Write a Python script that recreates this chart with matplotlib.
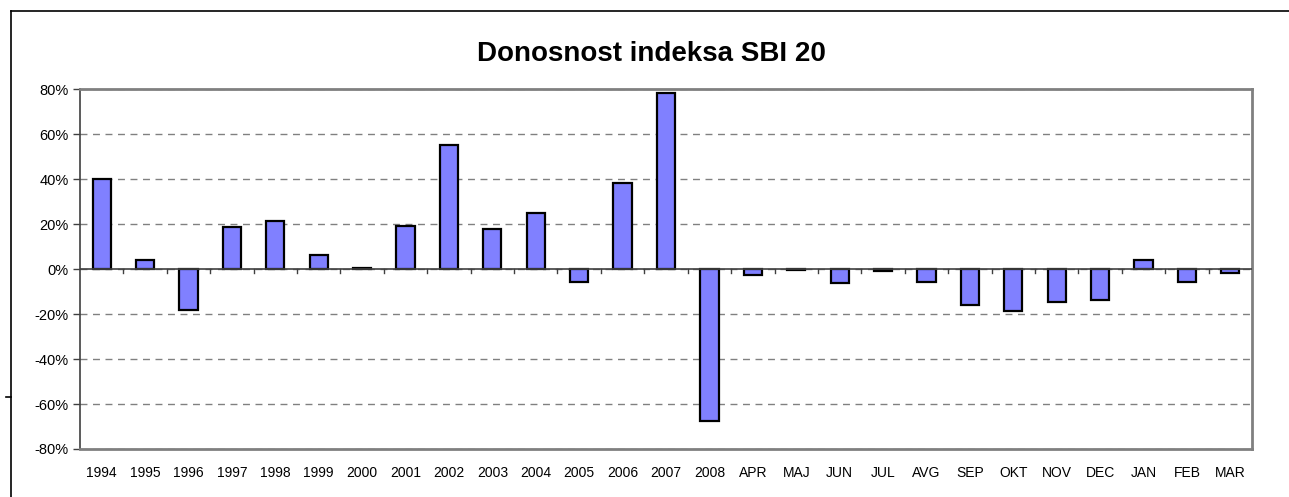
import matplotlib
matplotlib.use("Agg")
import matplotlib.pyplot as plt
from matplotlib.lines import Line2D
from matplotlib.ticker import FuncFormatter

plt.rcParams['font.family'] = ['Liberation Sans', 'DejaVu Sans']

# podatki: donosnost indeksa SBI 20 (v %)
labels = ["1994", "1995", "1996", "1997", "1998", "1999", "2000", "2001",
          "2002", "2003", "2004", "2005", "2006", "2007", "2008",
          "APR", "MAJ", "JUN", "JUL", "AVG", "SEP", "OKT", "NOV", "DEC",
          "JAN", "FEB", "MAR"]
returns = [39.8, 3.9, -18.2, 18.8, 21.5, 6.1, 0.4, 19.1,
           55.3, 17.8, 24.9, -5.6, 38.1, 78.2, -67.6,
           -2.5, -0.4, -6.4, -0.7, -5.6, -16.1, -18.8, -14.8, -13.9,
           4.0, -5.8, -1.9]

W, H = 1289, 497
fig = plt.figure(figsize=(W / 100, H / 100), dpi=100)
ax = fig.add_axes([80 / W, 1 - 449 / H, (1252 - 80) / W, (449 - 89) / H])

x = list(range(len(labels)))
ax.bar(x, returns, width=0.42, color="#8080FF", edgecolor="black",
       linewidth=1.6, zorder=3)

ax.set_xlim(-0.5, len(labels) - 0.5)
ax.set_ylim(-80, 80)
ax.set_yticks(range(-80, 81, 20))
ax.yaxis.set_major_formatter(FuncFormatter(lambda v, p: f"{v:.0f}%"))
ax.yaxis.grid(True, linestyle=(0, (5, 4)), color="#808080", linewidth=1.0, zorder=0)
ax.tick_params(axis="y", length=5, width=1, color="#404040", labelsize=10.5, pad=3)

# os x na 0 z oznakami med kategorijami
ax.set_xticks(x)
ax.set_xticklabels(labels)
ax.tick_params(axis="x", length=0, labelsize=10, pad=12)
ax.axhline(0, color="#404040", linewidth=1.2, zorder=4)
for i in range(1, len(labels)):
    ax.plot([i - 0.5, i - 0.5], [0, -1.6], color="#404040", linewidth=1, zorder=4,
            clip_on=False)

for side in ["top", "right", "bottom"]:
    ax.spines[side].set_color("#808080")
    ax.spines[side].set_linewidth(2)
ax.spines["left"].set_color("#404040")
ax.spines["left"].set_linewidth(1.2)

fig.text(651 / W, 1 - 54 / H, "Donosnost indeksa SBI 20", ha="center", va="center",
         fontsize=20, fontweight="bold")

# okvir grafa
fig.add_artist(Line2D([11 / W, 1], [1 - 11 / H, 1 - 11 / H], color="black", linewidth=1.2))
fig.add_artist(Line2D([11 / W, 11 / W], [0, 1 - 11 / H], color="black", linewidth=1.2))
fig.add_artist(Line2D([6 / W, 11 / W], [1 - 397 / H, 1 - 397 / H], color="black", linewidth=1.2))

fig.savefig("out.png", dpi=100)
